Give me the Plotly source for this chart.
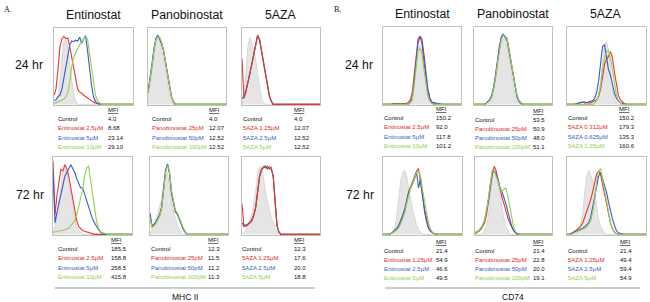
import plotly.graph_objects as go

W, H = 650, 302
FONT = "Liberation Sans"
RED, BLUE, GREEN = "#e8362e", "#3a58cc", "#92d050"
TXT_RED, TXT_BLUE, TXT_GREEN = "#e0281f", "#3a5bc8", "#8fcf4a"

# ---------------- histogram data (percent of box height, 41 bins) ----------------
# Panel A (MHC II) 24 hr
a24_ent_ctrl = [0,2,10,30,60,82,85,75,50,30,12,4,0,0,0,0,0,0,0,0,0,0,0,0,0,0,0,0,0,0,0,0,0,0,0,0,0,0,0,0,0]
a24_ent_red = [12,20,45,75,86,89,86,87,75,60,45,30,20,16,15,12,10,8,7,5,3,2,1,0,0,0,0,0,0,0,0,0,0,0,0,0,0,0,0,0,0]
a24_ent_blue = [5,6,10,12,20,35,50,68,78,83,82,84,83,88,80,86,90,70,45,25,10,4,1,0,0,0,0,0,0,0,0,0,0,0,0,0,0,0,0,0,0]
a24_ent_green = [2,2,3,4,5,7,10,15,30,50,62,68,72,78,82,86,90,85,65,45,25,12,5,2,0,0,0,0,0,0,0,0,0,0,0,0,0,0,0,0,0]

a24_pan_ctrl = [5,25,45,65,80,86,82,72,60,45,30,12,3,0,0,0,0,0,0,0,0,0,0,0,0,0,0,0,0,0,0,0,0,0,0,0,0,0,0,0,0]
a24_pan_red = [15,30,50,70,85,90,87,80,70,55,40,22,10,3,0,0,0,0,0,0,0,0,0,0,0,0,0,0,0,0,0,0,0,0,0,0,0,0,0,0,0]
a24_pan_blue = [16,32,52,72,86,91,86,79,70,56,41,23,11,4,0,0,0,0,0,0,0,0,0,0,0,0,0,0,0,0,0,0,0,0,0,0,0,0,0,0,0]
a24_pan_green = [14,29,49,69,84,89,88,81,71,54,39,21,10,3,0,0,0,0,0,0,0,0,0,0,0,0,0,0,0,0,0,0,0,0,0,0,0,0,0,0,0]

a24_aza_ctrl = [0,10,40,75,87,80,70,60,40,20,7,2,0,0,0,0,0,0,0,0,0,0,0,0,0,0,0,0,0,0,0,0,0,0,0,0,0,0,0,0,0]
a24_aza_red = [60,8,16,27,40,52,65,78,90,85,70,55,40,25,12,4,0,0,0,0,0,0,0,0,0,0,0,0,0,0,0,0,0,0,0,0,0,0,0,0,0]
a24_aza_blue = [8,10,18,28,40,52,66,79,91,84,69,54,39,24,11,4,0,0,0,0,0,0,0,0,0,0,0,0,0,0,0,0,0,0,0,0,0,0,0,0,0]
a24_aza_green = [7,10,17,28,41,53,65,77,89,86,71,56,41,26,13,5,0,0,0,0,0,0,0,0,0,0,0,0,0,0,0,0,0,0,0,0,0,0,0,0,0]

# Panel A (MHC II) 72 hr
a72_ent_ctrl = [2,10,25,45,60,80,87,80,65,50,35,20,10,5,2,0,0,0,0,0,0,0,0,0,0,0,0,0,0,0,0,0,0,0,0,0,0,0,0,0,0]
a72_ent_red = [95,25,50,70,84,82,90,85,75,60,45,30,18,10,7,5,4,3,2,1,0,0,0,0,0,0,0,0,0,0,0,0,0,0,0,0,0,0,0,0,0]
a72_ent_blue = [85,15,28,40,55,65,75,80,85,90,85,80,72,65,60,60,52,45,35,28,20,15,10,6,3,1,0,0,0,0,0,0,0,0,0,0,0,0,0,0,0]
a72_ent_green = [3,3,4,4,5,5,6,7,8,11,14,18,25,35,46,58,75,86,88,70,50,30,18,8,4,2,1,0,0,0,0,0,0,0,0,0,0,0,0,0,0]

a72_pan_ctrl = [0,5,12,20,28,35,45,65,78,80,60,45,30,20,12,6,3,0,0,0,0,0,0,0,0,0,0,0,0,0,0,0,0,0,0,0,0,0,0,0,0]
a72_pan_red = [25,10,12,15,20,25,35,55,82,90,80,55,40,30,27,20,15,8,3,0,0,0,0,0,0,0,0,0,0,0,0,0,0,0,0,0,0,0,0,0,0]
a72_pan_blue = [28,11,13,16,21,26,36,56,83,91,79,54,39,29,26,19,14,7,3,0,0,0,0,0,0,0,0,0,0,0,0,0,0,0,0,0,0,0,0,0,0]
a72_pan_green = [22,9,11,14,19,24,34,54,80,89,82,57,42,31,28,21,16,9,4,0,0,0,0,0,0,0,0,0,0,0,0,0,0,0,0,0,0,0,0,0,0]

a72_aza_ctrl = [0,3,6,12,18,25,40,55,80,88,85,75,55,42,32,22,15,8,4,1,0,0,0,0,0,0,0,0,0,0,0,0,0,0,0,0,0,0,0,0,0]
a72_aza_red = [40,10,11,12,15,18,25,35,55,75,84,86,88,85,87,86,75,40,10,3,0,0,0,0,0,0,0,0,0,0,0,0,0,0,0,0,0,0,0,0,0]
a72_aza_blue = [15,12,12,13,15,17,24,34,54,74,83,87,86,88,85,84,76,42,11,3,0,0,0,0,0,0,0,0,0,0,0,0,0,0,0,0,0,0,0,0,0]
a72_aza_green = [12,11,11,13,16,19,26,36,56,76,85,88,89,84,86,87,74,39,10,2,0,0,0,0,0,0,0,0,0,0,0,0,0,0,0,0,0,0,0,0,0]

# Panel B (CD74) 24 hr
b24_ent_ctrl = [0,0,0,0,0,0,0,0,0,0,0,0,0,0,2,10,30,55,72,76,70,50,30,15,6,2,0,0,0,0,0,0,0,0,0,0,0,0,0,0,0]
b24_ent_red = [0,0,0,0,0,1,1,1,1,1,1,1,1,3,6,15,40,68,85,88,78,55,35,18,8,3,1,0,0,0,0,0,0,0,0,0,0,0,0,0,0]
b24_ent_blue = [0,0,0,0,0,0,0,0,0,0,0,0,0,0,3,8,30,60,80,88,84,65,40,20,8,3,2,2,1,1,0,0,0,0,0,0,0,0,0,0,0]
b24_ent_green = [0,0,0,0,0,0,0,0,0,0,0,0,0,0,2,6,25,50,70,72,65,45,25,10,4,1,0,0,0,0,0,0,0,0,0,0,0,0,0,0,0]

b24_pan_ctrl = [0,0,0,0,0,0,0,0,2,6,15,30,50,68,80,85,83,75,60,42,25,12,5,2,0,0,0,0,0,0,0,0,0,0,0,0,0,0,0,0,0]
b24_pan_red = [0,0,0,0,0,0,1,3,5,10,20,35,55,72,85,90,88,85,70,55,38,22,12,5,2,0,0,0,0,0,0,0,0,0,0,0,0,0,0,0,0]
b24_pan_blue = [0,0,0,0,0,0,1,3,6,11,22,38,58,75,87,91,86,82,68,52,36,20,10,4,1,0,0,0,0,0,0,0,0,0,0,0,0,0,0,0,0]
b24_pan_green = [0,0,0,0,0,0,1,2,5,9,19,33,53,70,84,89,88,84,72,56,40,24,13,6,2,0,0,0,0,0,0,0,0,0,0,0,0,0,0,0,0]

b24_aza_ctrl = [0,0,0,0,0,0,0,0,0,0,0,0,0,0,0,5,12,30,55,75,82,70,45,22,8,2,0,0,0,0,0,0,0,0,0,0,0,0,0,0,0]
b24_aza_red = [0,0,0,0,0,1,2,3,3,3,2,2,2,3,4,6,10,20,35,52,58,62,68,60,42,25,12,6,3,1,0,0,0,0,0,0,0,0,0,0,0]
b24_aza_blue = [0,0,0,0,0,1,2,2,3,2,2,3,4,5,8,15,30,55,75,77,60,45,38,25,15,8,4,2,1,0,0,0,0,0,0,0,0,0,0,0,0]
b24_aza_green = [0,0,0,0,0,0,0,0,0,0,0,0,0,0,2,5,12,25,45,60,68,70,60,45,28,13,5,2,0,0,0,0,0,0,0,0,0,0,0,0,0]

# Panel B (CD74) 72 hr
b72_ent_ctrl = [0,0,0,0,0,2,8,25,45,70,80,83,75,60,45,32,22,12,6,3,1,0,0,0,0,0,0,0,0,0,0,0,0,0,0,0,0,0,0,0,0]
b72_ent_red = [0,0,0,0,1,2,4,7,10,15,22,30,42,55,62,68,75,82,85,70,50,33,20,10,5,2,1,0,0,0,0,0,0,0,0,0,0,0,0,0,0]
b72_ent_blue = [0,0,0,0,1,3,5,8,12,18,25,33,45,55,60,65,72,80,60,72,48,30,17,8,4,2,1,0,0,0,0,0,0,0,0,0,0,0,0,0,0]
b72_ent_green = [0,0,0,0,1,2,4,6,9,14,20,28,40,52,60,66,74,80,82,75,58,42,28,15,7,3,1,0,0,0,0,0,0,0,0,0,0,0,0,0,0]

b72_pan_ctrl = [0,0,0,0,2,5,12,25,50,72,80,78,68,50,35,20,10,5,2,0,0,0,0,0,0,0,0,0,0,0,0,0,0,0,0,0,0,0,0,0,0]
b72_pan_red = [1,2,4,6,10,15,25,40,60,78,88,82,70,58,48,40,30,22,15,9,5,2,1,0,0,0,0,0,0,0,0,0,0,0,0,0,0,0,0,0,0]
b72_pan_blue = [2,3,5,8,12,18,30,45,65,80,82,78,70,60,55,48,40,30,20,11,5,2,0,0,0,0,0,0,0,0,0,0,0,0,0,0,0,0,0,0,0]
b72_pan_green = [2,3,5,8,12,18,30,48,68,84,82,75,68,58,55,58,60,50,35,20,10,4,1,0,0,0,0,0,0,0,0,0,0,0,0,0,0,0,0,0,0]

b72_aza_ctrl = [0,0,0,0,0,2,5,12,28,55,75,83,75,70,55,38,20,10,5,2,0,0,0,0,0,0,0,0,0,0,0,0,0,0,0,0,0,0,0,0,0]
b72_aza_red = [0,0,1,2,4,6,8,11,15,22,30,38,45,55,68,78,82,78,65,52,38,27,15,7,3,1,0,0,0,0,0,0,0,0,0,0,0,0,0,0,0]
b72_aza_blue = [0,0,1,2,3,4,5,6,8,10,12,15,22,35,50,65,75,80,72,62,55,42,30,20,12,5,2,1,0,0,0,0,0,0,0,0,0,0,0,0,0]
b72_aza_green = [0,0,0,1,2,3,4,5,6,8,10,13,18,28,45,68,82,85,72,58,42,27,15,7,3,1,0,0,0,0,0,0,0,0,0,0,0,0,0,0,0]

# ---------------- table text ----------------
col_titles = ["Entinostat", "Panobinostat", "5AZA"]
row_titles = ["24 hr", "72 hr"]

a24_ent_labels = ["Control", "Entinostat 2.5μM", "Entinostat 5μM", "Entinostat 10μM"]
a24_ent_mfi = ["4.0", "8.68", "23.14", "29.10"]
a24_pan_labels = ["Control", "Panobinostat 25pM", "Panobinostat 50pM", "Panobinostat 100pM"]
a24_pan_mfi = ["4.0", "12.07", "12.52", "12.52"]
a24_aza_labels = ["Control", "5AZA 1.25μM", "5AZA 2.5μM", "5AZA 5μM"]
a24_aza_mfi = ["4.0", "12.07", "12.52", "12.52"]

a72_ent_labels = ["Control", "Entinostat 2.5μM", "Entinostat 5μM", "Entinostat 10μM"]
a72_ent_mfi = ["185.5", "158.8", "258.5", "415.8"]
a72_pan_labels = ["Control", "Panobinostat 25pM", "Panobinostat 50pM", "Panobinostat 100pM"]
a72_pan_mfi = ["12.3", "11.5", "11.2", "11.3"]
a72_aza_labels = ["Control", "5AZA 1.25μM", "5AZA 2.5μM", "5AZA 5μM"]
a72_aza_mfi = ["12.3", "17.6", "20.0", "18.8"]

b24_ent_labels = ["Control", "Entinostat 2.5μM", "Entinostat 5μM", "Entinostat 10μM"]
b24_ent_mfi = ["150.2", "92.0", "117.8", "101.2"]
b24_pan_labels = ["Control", "Panobinostat 25pM", "Panobinostat 50pM", "Panobinostat 100pM"]
b24_pan_mfi = ["53.5", "50.9", "48.0", "51.1"]
b24_aza_labels = ["Control", "5AZA 0.312μM", "5AZA 0.625μM", "5AZA 1.25μM"]
b24_aza_mfi = ["150.2", "179.3", "135.3", "160.6"]

b72_ent_labels = ["Control", "Entinostat 1.25μM", "Entinostat 2.5μM", "Entinostat 5μM"]
b72_ent_mfi = ["21.4", "54.9", "46.6", "49.5"]
b72_pan_labels = ["Control", "Panobinostat 25pM", "Panobinostat 50pM", "Panobinostat 100pM"]
b72_pan_mfi = ["21.4", "22.8", "20.0", "19.1"]
b72_aza_labels = ["Control", "5AZA 1.25μM", "5AZA 2.5μM", "5AZA 5μM"]
b72_aza_mfi = ["21.4", "49.4", "59.4", "54.9"]

# ---------------- layout geometry (pixels) ----------------
panels = [
    ((54, 133, 28, 105), (57, 107, 110), a24_ent_ctrl, a24_ent_red, a24_ent_blue, a24_ent_green, a24_ent_labels, a24_ent_mfi, "rbg"),
    ((148, 226, 28, 105), (151, 208, 110), a24_pan_ctrl, a24_pan_red, a24_pan_blue, a24_pan_green, a24_pan_labels, a24_pan_mfi, "rbg"),
    ((242, 320, 28, 105), (242, 293, 110), a24_aza_ctrl, a24_aza_red, a24_aza_blue, a24_aza_green, a24_aza_labels, a24_aza_mfi, "gbr"),
    ((53, 132, 157, 235), (57, 110, 240), a72_ent_ctrl, a72_ent_red, a72_ent_blue, a72_ent_green, a72_ent_labels, a72_ent_mfi, "rbg"),
    ((150, 228, 157, 235), (150, 207, 240), a72_pan_ctrl, a72_pan_red, a72_pan_blue, a72_pan_green, a72_pan_labels, a72_pan_mfi, "rbg"),
    ((242, 320, 157, 235), (241, 293, 240), a72_aza_ctrl, a72_aza_red, a72_aza_blue, a72_aza_green, a72_aza_labels, a72_aza_mfi, "gbr"),
    ((383, 461, 27, 105), (383, 435, 109), b24_ent_ctrl, b24_ent_red, b24_ent_blue, b24_ent_green, b24_ent_labels, b24_ent_mfi, "rbg"),
    ((474, 552, 27, 105), (474, 532, 110.5), b24_pan_ctrl, b24_pan_red, b24_pan_blue, b24_pan_green, b24_pan_labels, b24_pan_mfi, "rbg"),
    ((567, 646, 27, 105), (567, 618, 109), b24_aza_ctrl, b24_aza_red, b24_aza_blue, b24_aza_green, b24_aza_labels, b24_aza_mfi, "rbg"),
    ((383, 462, 157, 235), (383, 435, 241.5), b72_ent_ctrl, b72_ent_red, b72_ent_blue, b72_ent_green, b72_ent_labels, b72_ent_mfi, "rbg"),
    ((475, 552, 157, 235), (474, 532, 241.5), b72_pan_ctrl, b72_pan_red, b72_pan_blue, b72_pan_green, b72_pan_labels, b72_pan_mfi, "rbg"),
    ((567, 646, 157, 235), (567, 619, 241.5), b72_aza_ctrl, b72_aza_red, b72_aza_blue, b72_aza_green, b72_aza_labels, b72_aza_mfi, "rbg"),
]

fig = go.Figure()
layout_axes = {}
annotations = []


def ann(text, px, py, size, color="#111111", xanchor="left", family=FONT):
    return dict(text=text, x=px / W, y=1 - py / H, xref="paper", yref="paper",
                xanchor=xanchor, yanchor="middle", showarrow=False, borderpad=0,
                font=dict(size=size, color=color, family=family))


line_colors = {"r": RED, "b": BLUE, "g": GREEN}
txt_colors = ["#111111", TXT_RED, TXT_BLUE, TXT_GREEN]

for k, (box, tab, ctrl, red, blue, green, labels, mfi, order) in enumerate(panels, start=1):
    x0, x1, y0, y1 = box
    xa = "x" if k == 1 else f"x{k}"
    ya = "y" if k == 1 else f"y{k}"
    series = {"r": red, "b": blue, "g": green}
    fig.add_trace(go.Scatter(
        x=[i / 40 for i in range(len(ctrl))], y=[v / 100 for v in ctrl],
        mode="lines", fill="tozeroy", fillcolor="#e5e5e5",
        line=dict(color="#d2d2d2", width=0.8), xaxis=xa, yaxis=ya,
        showlegend=False, hoverinfo="skip"))
    for c in order:
        vals = series[c]
        fig.add_trace(go.Scatter(
            x=[i / 40 for i in range(len(vals))], y=[v / 100 for v in vals],
            mode="lines", line=dict(color=line_colors[c], width=1.1),
            xaxis=xa, yaxis=ya, showlegend=False, hoverinfo="skip"))
    axcommon = dict(showticklabels=False, showgrid=False, zeroline=False, ticks="",
                    showline=True, mirror=True, linecolor="#c0c0c0", linewidth=1.4,
                    layer="below traces", fixedrange=True)
    layout_axes["xaxis" if k == 1 else f"xaxis{k}"] = dict(
        domain=[x0 / W, x1 / W], range=[0, 1], anchor=ya, **axcommon)
    layout_axes["yaxis" if k == 1 else f"yaxis{k}"] = dict(
        domain=[1 - y1 / H, 1 - y0 / H], range=[-0.008, 1.0], anchor=xa, **axcommon)

    lx, vx, my = tab
    annotations.append(ann("<u>MFI</u>", vx, my, 6))
    for r in range(4):
        py = my + 9.0 + r * 9.3
        annotations.append(ann(labels[r], lx, py, 6, txt_colors[r]))
        annotations.append(ann(mfi[r], vx, py, 6, "#111111"))

# column titles
for cx, t in zip([93.5, 187, 281], col_titles):
    annotations.append(ann(t, cx, 15, 12.3, xanchor="center"))
for cx, t in zip([422, 513, 606], col_titles):
    annotations.append(ann(t, cx, 14, 12.3, xanchor="center"))
# row titles
annotations.append(ann(row_titles[0], 29, 65, 12.3, xanchor="center"))
annotations.append(ann(row_titles[1], 30, 195, 12.3, xanchor="center"))
annotations.append(ann(row_titles[0], 359, 65, 12.3, xanchor="center"))
annotations.append(ann(row_titles[1], 360, 195, 12.3, xanchor="center"))
# panel letters
annotations.append(ann("A.", 3, 10, 8, family="Liberation Serif"))
annotations.append(ann("B.", 333, 10, 8, family="Liberation Serif"))
# marker labels
annotations.append(ann("MHC II", 185, 296.5, 8.5, xanchor="center"))
annotations.append(ann("CD74", 513, 296.5, 8.5, xanchor="center"))

shapes = [
    dict(type="line", xref="paper", yref="paper", x0=55 / W, x1=315 / W,
         y0=1 - 288 / H, y1=1 - 288 / H, line=dict(color="#9a9a9a", width=1.2)),
    dict(type="line", xref="paper", yref="paper", x0=385 / W, x1=640 / W,
         y0=1 - 288 / H, y1=1 - 288 / H, line=dict(color="#9a9a9a", width=1.2)),
]

fig.update_layout(width=W, height=H, margin=dict(l=0, r=0, t=0, b=0),
                  paper_bgcolor="white", plot_bgcolor="white",
                  annotations=annotations, shapes=shapes, **layout_axes)
fig.write_html("out.html", config={"displayModeBar": False},
               post_script="document.body.style.margin='0';document.body.style.overflow='hidden';")
